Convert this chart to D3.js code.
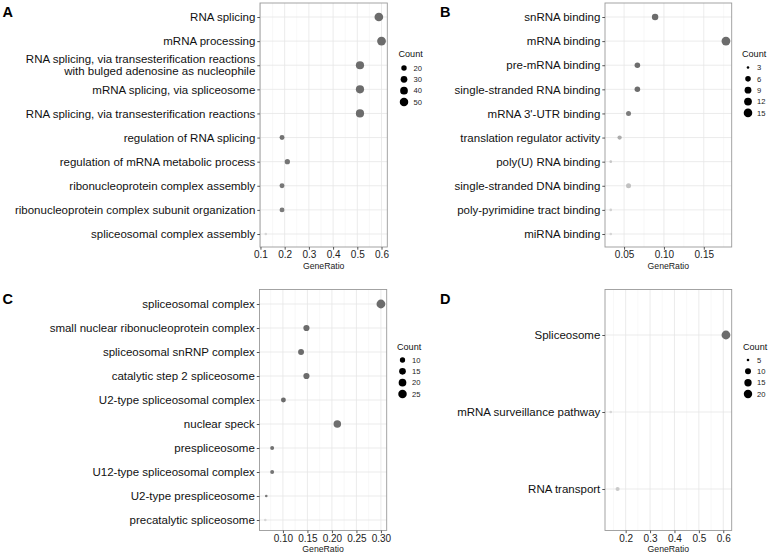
<!DOCTYPE html>
<html lang="en">
<head>
  <meta charset="UTF-8">
  <script src="https://d3js.org/d3.v7.min.js"></script>
  <style>
    body { margin: 0; background: #fff; }
    svg { display: block; font-family: "Liberation Sans", Arial, sans-serif; }
  </style>
</head>
<body>
  <div id="container"></div>
  <script type="text/javascript">
    // A - biological process
    const aTerms = ["RNA splicing", "mRNA processing",
      "RNA splicing, via transesterification reactions\nwith bulged adenosine as nucleophile",
      "mRNA splicing, via spliceosome", "RNA splicing, via transesterification reactions",
      "regulation of RNA splicing", "regulation of mRNA metabolic process",
      "ribonucleoprotein complex assembly", "ribonucleoprotein complex subunit organization",
      "spliceosomal complex assembly"];
    const aRatio = [0.589, 0.600, 0.511, 0.511, 0.511, 0.189, 0.211, 0.189, 0.189, 0.122];
    const aCount = [53, 54, 46, 46, 46, 17, 19, 17, 17, 11];
    const aPadj = [1e-30, 1e-30, 1e-28, 1e-28, 1e-28, 0.0016, 0.0025, 0.003, 0.004, 0.03];
    const aBreaks = [20, 30, 40, 50];

    // B - molecular function
    const bTerms = ["snRNA binding", "mRNA binding", "pre-mRNA binding", "single-stranded RNA binding",
      "mRNA 3'-UTR binding", "translation regulator activity", "poly(U) RNA binding",
      "single-stranded DNA binding", "poly-pyrimidine tract binding", "miRNA binding"];
    const bRatio = [0.0889, 0.1778, 0.0667, 0.0667, 0.0556, 0.0444, 0.0333, 0.0556, 0.0333, 0.0333];
    const bCount = [8, 16, 6, 6, 5, 4, 3, 5, 3, 3];
    const bPadj = [0.0001, 0.00001, 0.0002, 0.0004, 0.006, 0.024, 0.034, 0.032, 0.038, 0.04];
    const bBreaks = [3, 6, 9, 12, 15];

    // C - cellular component
    const cTerms = ["spliceosomal complex", "small nuclear ribonucleoprotein complex",
      "spliceosomal snRNP complex", "catalytic step 2 spliceosome", "U2-type spliceosomal complex",
      "nuclear speck", "prespliceosome", "U12-type spliceosomal complex",
      "U2-type prespliceosome", "precatalytic spliceosome"];
    const cRatio = [0.300, 0.148, 0.137, 0.148, 0.101, 0.211, 0.078, 0.078, 0.066, 0.064];
    const cCount = [27, 13, 12, 13, 9, 19, 7, 7, 6, 6];
    const cPadj = [1e-20, 1e-10, 1e-9, 1e-8, 1e-7, 0.0008, 0.002, 0.0032, 0.0048, 0.04];
    const cBreaks = [10, 15, 20, 25];

    // D - KEGG
    const dTerms = ["Spliceosome", "mRNA surveillance pathway", "RNA transport"];
    const dRatio = [0.611, 0.139, 0.167];
    const dCount = [22, 5, 6];
    const dPadj = [1e-15, 0.045, 0.04];
    const dBreaks = [5, 10, 15, 20];

    const w = 768, h = 557;
    const svg = d3.select("#container").append("svg")
      .attr("width", w).attr("height", h);

    function drawPanel(o) {
      const g = svg.append("g");
      const ext = d3.extent(o.ratio);
      const pad = (ext[1] - ext[0]) * 0.05;
      const x = d3.scaleLinear().domain([ext[0] - pad, ext[1] + pad]).range([o.x0, o.x1]);
      const y = d3.scalePoint().domain(o.terms).range([o.rowFirst, o.rowLast]);
      const cExt = d3.extent(o.count);
      const rs = d3.scaleSqrt().domain([0, cExt[1] - cExt[0]]).range([1.3, 4.4]);
      const r = v => rs(v - cExt[0]);
      const col = d3.scaleLinear().domain(d3.extent(o.padj)).range(["#6c6c6c", "#d6d6d6"]);

      const majors = x.ticks(o.nTicks);
      const step = majors[1] - majors[0];
      const dom = x.domain();
      const minors = d3.range(majors[0] - step / 2, dom[1], step)
        .filter(v => v >= dom[0] && v <= dom[1]);

      // grid
      g.selectAll(".minor").data(minors).enter().append("line")
        .attr("x1", d => x(d)).attr("x2", d => x(d))
        .attr("y1", o.y0).attr("y2", o.y1)
        .attr("stroke", "#f3f3f3").attr("stroke-width", 0.6);
      g.selectAll(".major").data(majors).enter().append("line")
        .attr("x1", d => x(d)).attr("x2", d => x(d))
        .attr("y1", o.y0).attr("y2", o.y1)
        .attr("stroke", "#e6e6e6").attr("stroke-width", 0.8);
      g.selectAll(".hgrid").data(o.terms).enter().append("line")
        .attr("x1", o.x0).attr("x2", o.x1)
        .attr("y1", d => y(d)).attr("y2", d => y(d))
        .attr("stroke", "#e6e6e6").attr("stroke-width", 0.8);

      // points
      g.selectAll("circle.pt").data(o.terms).enter().append("circle")
        .attr("class", "pt")
        .attr("cx", (d, i) => x(o.ratio[i]))
        .attr("cy", d => y(d))
        .attr("r", (d, i) => r(o.count[i]))
        .attr("fill", (d, i) => col(o.padj[i]));

      // border
      g.append("rect")
        .attr("x", o.x0).attr("y", o.y0)
        .attr("width", o.x1 - o.x0).attr("height", o.y1 - o.y0)
        .attr("fill", "none").attr("stroke", "#9a9a9a").attr("stroke-width", 0.9);

      // x axis
      const xa = g.append("g")
        .attr("transform", "translate(0," + o.y1 + ")")
        .call(d3.axisBottom(x).tickValues(majors).tickFormat(d3.format(o.fmt))
          .tickSize(2.7).tickPadding(1.5));
      xa.select(".domain").remove();
      xa.selectAll(".tick line").attr("stroke", "#555");
      xa.selectAll("text").attr("font-size", "10px").attr("fill", "#222")
        .attr("font-family", "Liberation Sans, Arial, sans-serif");

      g.append("text")
        .attr("x", (o.x0 + o.x1) / 2).attr("y", o.y1 + 21.5)
        .attr("text-anchor", "middle")
        .attr("font-size", "8.7px").attr("fill", "#222")
        .text("GeneRatio");

      // y axis
      const ya = g.append("g")
        .attr("transform", "translate(" + o.x0 + ",0)")
        .call(d3.axisLeft(y).tickSize(2.7).tickPadding(2));
      ya.select(".domain").remove();
      ya.selectAll(".tick line").attr("stroke", "#555");
      ya.selectAll("text")
        .attr("font-size", "11.5px").attr("fill", "#111")
        .attr("font-family", "Liberation Sans, Arial, sans-serif")
        .each(function (d) {
          const parts = d.split("\n");
          if (parts.length > 1) {
            const t = d3.select(this);
            const xx = t.attr("x");
            t.text(null).attr("dy", null);
            parts.forEach((p, k) => {
              t.append("tspan").attr("x", xx)
                .attr("dy", k === 0 ? "-0.2em" : "1.02em")
                .text(p);
            });
          }
        });

      // panel letter
      svg.append("text")
        .attr("x", o.letterX).attr("y", o.letterY)
        .attr("font-size", "14.5px").attr("font-weight", "bold").attr("fill", "#000")
        .text(o.letter);

      // size legend
      const lg = svg.append("g");
      lg.append("text")
        .attr("x", o.legX).attr("y", o.legTitleY)
        .attr("font-size", "9.1px").attr("fill", "#111")
        .text("Count");
      const items = lg.selectAll(".key").data(o.breaks).enter().append("g");
      items.append("circle")
        .attr("cx", o.legDotX)
        .attr("cy", (d, i) => o.legItemY + i * 11.35)
        .attr("r", d => r(d))
        .attr("fill", "#000");
      items.append("text")
        .attr("x", o.legLabX)
        .attr("y", (d, i) => o.legItemY + i * 11.35 + 2.7)
        .attr("font-size", "7.6px").attr("fill", "#222")
        .text(d => d);
    }

    drawPanel({ terms: aTerms, ratio: aRatio, count: aCount, padj: aPadj, breaks: aBreaks,
      fmt: ".1f", nTicks: 5, x0: 260, x1: 387.3, y0: 3, y1: 247, rowFirst: 17, rowLast: 234,
      letter: "A", letterX: 2.5, letterY: 17,
      legX: 398.5, legTitleY: 57, legDotX: 404, legLabX: 413.5, legItemY: 68 });

    drawPanel({ terms: bTerms, ratio: bRatio, count: bCount, padj: bPadj, breaks: bBreaks,
      fmt: ".2f", nTicks: 3, x0: 605, x1: 731.7, y0: 3, y1: 247, rowFirst: 17, rowLast: 234,
      letter: "B", letterX: 440, letterY: 16.5,
      legX: 742, legTitleY: 57, legDotX: 748, legLabX: 757, legItemY: 67.5 });

    drawPanel({ terms: cTerms, ratio: cRatio, count: cCount, padj: cPadj, breaks: cBreaks,
      fmt: ".2f", nTicks: 5, x0: 259.5, x1: 386.7, y0: 289.5, y1: 530.5, rowFirst: 304, rowLast: 520,
      letter: "C", letterX: 2.5, letterY: 303.5,
      legX: 397, legTitleY: 349.5, legDotX: 402.5, legLabX: 412, legItemY: 360 });

    drawPanel({ terms: dTerms, ratio: dRatio, count: dCount, padj: dPadj, breaks: dBreaks,
      fmt: ".1f", nTicks: 5, x0: 605, x1: 731.7, y0: 289.5, y1: 530.5, rowFirst: 335, rowLast: 489,
      letter: "D", letterX: 440, letterY: 303.5,
      legX: 743, legTitleY: 349.5, legDotX: 748, legLabX: 757, legItemY: 360 });
  </script>
</body>
</html>
